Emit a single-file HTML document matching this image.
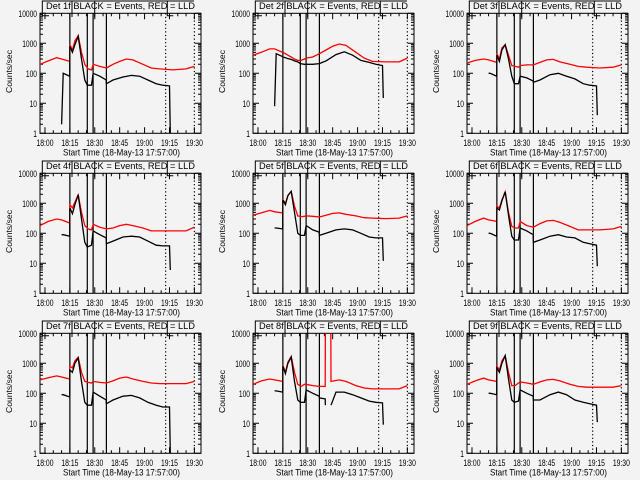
<!DOCTYPE html>
<html><head><meta charset="utf-8">
<style>
html,body{margin:0;padding:0;background:#f3f3f3;}
svg{display:block;font-family:"Liberation Sans",sans-serif;}
</style></head>
<body>
<svg id="chart" width="640" height="480" viewBox="0 0 640 480" xmlns="http://www.w3.org/2000/svg">
<rect width="640" height="480" fill="#f3f3f3"/>
</svg>
<script>
const X_TICK_LABELS = ["18:00","18:15","18:30","18:45","19:00","19:15","19:30"];
const X_TICK_MINUTES = [3,18,33,48,63,78,93];
const Y_TICK_LABELS = ["1","10","100","1000","10000"];
const Y_TICK_VALUES = [1,10,100,1000,10000];
const SOLID_LINES = [18,28.5,32,40];
const DOTTED_LINES = [75.7,93];
const T_RED = [0,5,10,13,17.9,18,19.5,21,23,25,27,29,31,32,36,40,44,48,52,56,62,67,72,80,88,93];
const T_BLACK = [13,14,17.9,18,19.5,21,23,25,27,28.5,31,32,36,39.9,40,44,50,55,60,65,70,74,78,78.5];
const T_RED_8 = [0,5,10,13,17.9,18,19.5,21,23,25,27,29,31,32,36,40,43.5,43.6,46.9,47,52,56,62,67,72,80,88,93];
const T_BLACK_8 = [13,14,17.9,18,19.5,21,23,25,27,28.5,31,32,36,39.9,40,43.5,43.6,46.9,47,50,55,60,65,70,74,78,78.5];
const DET_NAMES = ["1f","2f","3f","4f","5f","6f","7f","8f","9f"];
const red1 = [200,260,330,300,250,900,600,1200,1800,500,200,140,130,200,170,150,200,250,300,280,200,150,140,130,140,170];
const black1 = [2,100,80,800,500,900,1700,300,60,40,40,100,80,60,45,60,75,85,80,60,45,40,38,1];
const red2 = [400,500,650,650,500,500,450,400,350,300,270,270,300,320,350,450,600,800,950,850,500,320,250,240,240,320];
const black2 = [8,450,360,350,330,310,290,260,240,210,200,200,200,210,210,260,420,520,400,270,230,200,180,15];
const red3 = [220,270,300,280,230,450,300,700,900,400,180,170,160,180,190,190,230,280,290,240,200,170,160,150,160,190];
const black3 = [100,100,80,400,250,600,900,300,80,45,45,80,70,55,50,60,90,100,80,65,45,40,38,4];
const red4 = [180,250,300,280,220,900,700,1100,1900,500,180,140,130,200,160,140,150,180,200,180,150,120,120,120,120,160];
const black4 = [90,90,80,700,450,900,1900,300,50,35,40,120,90,70,45,55,75,80,75,55,40,38,38,6];
const red5 = [400,480,580,520,480,1300,1000,1800,2500,800,380,360,370,380,370,350,400,460,480,430,380,330,320,310,320,380];
const black5 = [150,150,140,1300,900,1800,2500,500,100,85,85,180,130,110,85,100,130,140,130,100,75,70,70,12];
const red6 = [180,250,320,280,250,800,700,1300,2400,500,170,150,150,250,180,160,210,260,270,230,170,130,130,130,140,170];
const black6 = [100,100,80,700,600,1200,2400,400,80,60,60,150,120,90,50,60,80,90,75,70,50,45,40,8];
const red7 = [280,330,380,350,300,800,700,1200,1600,500,250,230,220,250,230,220,260,320,350,300,250,220,210,210,210,250];
const black7 = [90,90,75,600,500,1000,1500,250,50,40,40,110,80,60,45,60,80,85,70,50,40,35,35,1];
const red8 = [200,260,300,280,250,850,500,1100,1700,500,200,170,200,200,180,170,170,30000,30000,250,280,250,180,150,140,140,140,180];
const black8 = [120,120,110,800,450,1000,1600,250,60,50,50,130,100,80,70,65,40,null,40,110,110,90,70,55,50,48,9];
const red9 = [200,260,320,280,250,800,600,1200,1800,500,180,180,220,240,220,200,240,280,290,260,200,170,160,160,160,180];
const black9 = [100,100,90,700,500,1000,1800,300,60,50,55,130,100,80,60,60,90,110,90,60,50,45,40,11];

const REDS=[red1,red2,red3,red4,red5,red6,red7,red8,red9];
const BLACKS=[black1,black2,black3,black4,black5,black6,black7,black8,black9];

const NS="http://www.w3.org/2000/svg";
const svg=document.getElementById('chart');
const L=40,R=201,T=13.3,B=133.3,PXMIN=161/97;
function xs(t){return L+t*PXMIN;}
function ys(v){return B-30*Math.log10(v);}
function mk(tag,attrs,parent){const e=document.createElementNS(NS,tag);for(const k in attrs)e.setAttribute(k,attrs[k]);parent.appendChild(e);return e;}

const defs=mk('defs',{},svg);
const cp=mk('clipPath',{id:'pclip'},defs);
mk('rect',{x:L,y:T,width:R-L,height:B-T},cp);

function pathFrom(ts,vs){let d='',pen=false;for(let i=0;i<ts.length;i++){if(vs[i]==null){pen=false;continue;}d+=(pen?'L':'M')+xs(ts[i]).toFixed(1)+' '+ys(vs[i]).toFixed(1)+' ';pen=true;}return d;}

for(let p=0;p<9;p++){
  const col=p%3,row=Math.floor(p/3);
  const g=mk('g',{transform:`translate(${col*213+(col==2?1:0)},${row*160})`},svg);
  
  
  const title=mk('text',{x:46,y:9,'font-size':'9.5',textLength:149,lengthAdjust:'spacingAndGlyphs',fill:'#000'},g);
  title.textContent='Det '+DET_NAMES[p]+' BLACK = Events, RED = LLD';
  
  
  const att=mk('path',{d:`M42.3 15.7 L42.3 1 L194 1 M42.3 15.7 L49 15.7 M167.3 1 L167.3 15.7 L173.3 15.7 M72 1 L72 17 M94.7 1 L94.7 17`,stroke:'#000','stroke-width':1,fill:'none'},g);
  
  
  const frame=mk('rect',{x:L,y:T,width:R-L,height:B-T,fill:'none',stroke:'#000','stroke-width':1},g);
  
  
  let td='';
  for(let d=0;d<4;d++){for(let m=2;m<10;m++){const y=ys(m*Math.pow(10,d));td+=`M${L} ${y}h3M${R} ${y}h-3`;}}
  Y_TICK_VALUES.forEach(v=>{const y=ys(v);td+=`M${L} ${y}h6M${R} ${y}h-6`;});
  for(let t=3;t<97;t+=5){const x=xs(t);td+=`M${x} ${B}v-3M${x} ${T}v3`;}
  X_TICK_MINUTES.forEach(t=>{const x=xs(t);td+=`M${x} ${B}v-6M${x} ${T}v6`;});
  const ticks=mk('path',{d:td,stroke:'#000','stroke-width':1,fill:'none'},g);
  
  
  Y_TICK_VALUES.forEach((v,i)=>{const lab=Y_TICK_LABELS[i];const t=mk('text',{x:37-lab.length*3.7,y:ys(v)+3.5,'font-size':'9',textLength:lab.length*3.7,lengthAdjust:'spacingAndGlyphs'},g);t.textContent=lab;
    
    });
  X_TICK_MINUTES.forEach((m,i)=>{const t=mk('text',{x:xs(m)-8.5,y:146,'font-size':'9',textLength:17,lengthAdjust:'spacingAndGlyphs'},g);t.textContent=X_TICK_LABELS[i];
    
    });
  const xt=mk('text',{x:63,y:155.5,'font-size':'9.5',textLength:117,lengthAdjust:'spacingAndGlyphs'},g);xt.textContent='Start Time (18-May-13 17:57:00)';
  
  
  const yt=mk('text',{x:-21.5,y:0,'font-size':'8.5',textLength:43,lengthAdjust:'spacingAndGlyphs',transform:'translate(12,71.5) rotate(-90)'},g);yt.textContent='Counts/sec';
  
  
  SOLID_LINES.forEach(t=>{const l=mk('line',{x1:xs(t),x2:xs(t),y1:T,y2:B,stroke:'#000','stroke-width':1.2},g);
    
    });
  DOTTED_LINES.forEach(t=>{const l=mk('line',{x1:xs(t),x2:xs(t),y1:T,y2:B,stroke:'#000','stroke-width':1.2,'stroke-dasharray':'1.2 2.4'},g);
    
    });
  const plot=mk('g',{'clip-path':'url(#pclip)'},g);
  const tr=p==7?T_RED_8:T_RED, tb=p==7?T_BLACK_8:T_BLACK;
  const rp=mk('path',{d:pathFrom(tr,REDS[p]),stroke:'#ff0000','stroke-width':1.3,fill:'none'},plot);
  
  
  const bp=mk('path',{d:pathFrom(tb,BLACKS[p]),stroke:'#000','stroke-width':1.3,fill:'none'},plot);
  
  
}
</script>
</body></html>
